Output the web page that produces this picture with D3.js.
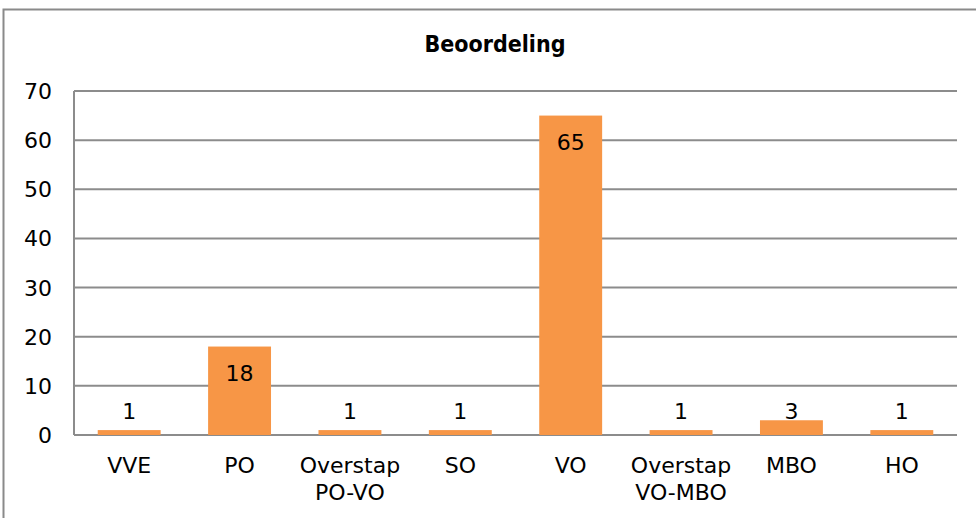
<!DOCTYPE html>
<html><head><meta charset="utf-8">
<script src="https://cdn.jsdelivr.net/npm/d3@7"></script>
<style>body{margin:0;background:#fff}svg{display:block}</style>
</head><body>
<script>
const categories = [["VVE"],["PO"],["Overstap","PO-VO"],["SO"],["VO"],["Overstap","VO-MBO"],["MBO"],["HO"]];
const values = [1,18,1,1,65,1,3,1];
const yTicks = [0,10,20,30,40,50,60,70];
const title = "Beoordeling";

const W=976,H=518;
const m={left:74,right:19,top:91,bottom:83};
const svg=d3.select("body").append("svg").attr("width",W).attr("height",H);
svg.append("rect").attr("x",3.5).attr("y",9.5).attr("width",W).attr("height",H).attr("fill","#fff").attr("stroke","#8a8a8a").attr("stroke-width",2);
const font="'DejaVu Sans',sans-serif";
const tfont="'DejaVu Sans Condensed','DejaVu Sans',sans-serif";
svg.append("text").attr("x",495).attr("y",52).attr("text-anchor","middle").attr("font-family",tfont).attr("font-weight","bold").attr("font-size",23).attr("fill","#000").text(title);

const x=d3.scaleBand().domain(d3.range(categories.length)).range([m.left,W-m.right]).paddingInner(0.43).paddingOuter(0.215);
const y=d3.scaleLinear().domain([0,70]).range([H-m.bottom,m.top]);

const g=svg.append("g");
g.selectAll("line.grid").data(yTicks).join("line").attr("class","grid")
 .attr("x1",m.left).attr("x2",W-m.right).attr("y1",d=>y(d)).attr("y2",d=>y(d))
 .attr("stroke","#8c8c8c").attr("stroke-width",2);
g.append("line").attr("x1",m.left).attr("x2",m.left).attr("y1",y(70)).attr("y2",y(0)).attr("stroke","#8c8c8c").attr("stroke-width",2);
g.selectAll("text.yt").data(yTicks).join("text").attr("class","yt")
 .attr("x",52).attr("y",d=>y(d)+8).attr("text-anchor","end").attr("font-family",font).attr("font-size",22).text(d=>d);

g.selectAll("rect.bar").data(values).join("rect").attr("class","bar")
 .attr("x",(d,i)=>x(i)).attr("width",x.bandwidth()).attr("y",d=>y(d)).attr("height",d=>y(0)-y(d)).attr("fill","#F79646");

g.selectAll("text.val").data(values).join("text").attr("class","val")
 .attr("x",(d,i)=>x(i)+x.bandwidth()/2)
 .attr("y",d=>(y(0)-y(d))>30 ? y(d)+34 : y(0)-16)
 .attr("text-anchor","middle").attr("font-family",font).attr("font-size",22).text(d=>d);

const xl=g.selectAll("text.xl").data(categories).join("text").attr("class","xl")
 .attr("x",(d,i)=>x(i)+x.bandwidth()/2).attr("y",473).attr("text-anchor","middle").attr("font-family",font).attr("font-size",22);
xl.each(function(d){
  const t=d3.select(this);
  d.forEach((s,k)=>t.append("tspan").attr("x",t.attr("x")).attr("dy",k?27:0).text(s));
});
</script>
</body></html>
